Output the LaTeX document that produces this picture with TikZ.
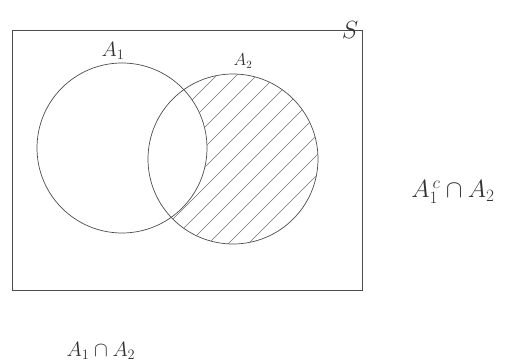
\documentclass[tikz,border=0pt]{standalone}
\begin{document}
\begin{tikzpicture}[x=1pt,y=-1pt,
  ink/.style={draw=black!70,line width=0.7pt},
  setc/.style={circle,ink,minimum size=170pt,inner sep=0pt},
  hatch/.style={draw=black!55,line width=0.5pt},
  lbl/.style={inner sep=0pt,text=black!80}]
\useasboundingbox (0,0) rectangle (508,363);
\node[draw=black!70,line width=0.7pt,minimum width=350pt,minimum height=260pt,inner sep=0pt] (S) at (187,160) {};
\node[setc] (A1) at (122,148) {};
\node[setc] (A2) at (233,159) {};
\begin{scope}
  \clip (233,159) circle (85);
  \begin{scope}[even odd rule]
    \clip (0,0) rectangle (508,363) (122,148) circle (85);
    \foreach \k in {-12,...,12}{
      \draw[hatch] (133+\k*20,259) -- (333+\k*20,59);
    }
  \end{scope}
\end{scope}
\node[lbl,font=\fontsize{22}{24}\selectfont] (lA1) at (113,51) {$A_1$};
\node[lbl,font=\fontsize{16}{18}\selectfont] (lA2) at (243,61) {$A_2$};
\node[lbl,font=\fontsize{24}{26}\selectfont] (lS) at (350,30) {$S$};
\node[lbl,font=\fontsize{24}{26}\selectfont] (lc) at (453,192) {$A_1^{\,c}\cap A_2$};
\node[lbl,font=\fontsize{20}{22}\selectfont] (li) at (101,351) {$A_1\cap A_2$};
\end{tikzpicture}
\end{document}
